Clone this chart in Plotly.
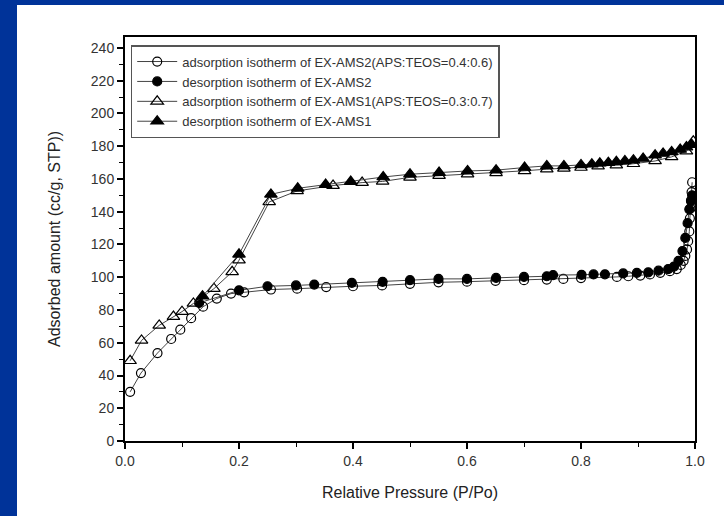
import plotly.graph_objects as go

# AMS2 adsorption (open circles)
ads2_p = [0.009, 0.028, 0.057, 0.081, 0.097, 0.116, 0.137, 0.161, 0.186, 0.209, 0.256, 0.302, 0.353, 0.400,
          0.451, 0.500, 0.550, 0.600, 0.650, 0.700, 0.740, 0.769, 0.800, 0.863, 0.883, 0.904, 0.921, 0.939,
          0.956, 0.968, 0.975, 0.980, 0.983, 0.986, 0.988, 0.990, 0.991, 0.992, 0.993, 0.994, 0.995]
ads2_v = [30, 41.5, 53.7, 62.3, 68, 75, 82, 87, 90, 90.8, 92.5, 93, 94, 94.5,
          95, 96, 96.9, 97.3, 97.8, 98.2, 98.6, 99, 99.5, 100.2, 100.6, 101, 101.7, 102.7,
          103.7, 105, 107.5, 110, 113, 117, 122, 128, 136, 142, 147, 152, 158]

# AMS2 desorption (filled circles)
des2_p = [0.995, 0.993, 0.990, 0.987, 0.983, 0.978, 0.971, 0.963, 0.953, 0.936, 0.918, 0.898, 0.874, 0.842,
          0.822, 0.801, 0.751, 0.740, 0.700, 0.651, 0.600, 0.550, 0.500, 0.452, 0.398, 0.332, 0.300, 0.250,
          0.200, 0.130]
des2_v = [150, 146.5, 141.5, 133, 124, 116, 110, 106.5, 105, 104, 103, 102.7, 102.3, 101.8,
          101.7, 101.5, 101.3, 100.6, 100.2, 99.6, 99, 99, 98.2, 97.2, 96.6, 95.5, 95, 94.5,
          92, 84.3]

# AMS1 adsorption (open triangles)
ads1_p = [0.009, 0.029, 0.060, 0.085, 0.100, 0.120, 0.156, 0.188, 0.200, 0.253, 0.302, 0.365, 0.416, 0.452,
          0.500, 0.551, 0.601, 0.651, 0.701, 0.740, 0.770, 0.800, 0.830, 0.862, 0.892, 0.930, 0.959, 0.985, 0.997]
ads1_v = [49, 61.4, 70.6, 76, 79, 84, 93, 103.3, 110.4, 146, 152.7, 156, 157.8, 158.5,
          161, 162, 163, 163.7, 165, 166, 166.5, 167, 167.8, 168.5, 169.3, 171, 173.5, 177, 183]

# AMS1 desorption (filled triangles)
des1_p = [0.994, 0.985, 0.974, 0.959, 0.944, 0.930, 0.909, 0.892, 0.877, 0.862, 0.848, 0.833, 0.819, 0.800,
          0.770, 0.740, 0.701, 0.651, 0.601, 0.551, 0.500, 0.453, 0.396, 0.352, 0.303, 0.256, 0.200, 0.136]
des1_v = [181, 179.5, 178, 176.5, 175.6, 174.5, 172.5, 171.5, 171, 170.5, 170, 169.6, 169, 168.6,
          168, 168, 167, 165.4, 164.9, 163.9, 162.9, 161.2, 158.4, 156.6, 154.3, 150.6, 114, 88.4]

names = [
    "adsorption isotherm of EX-AMS2(APS:TEOS=0.4:0.6)",
    "desorption isotherm of EX-AMS2",
    "adsorption isotherm of EX-AMS1(APS:TEOS=0.3:0.7)",
    "desorption isotherm of EX-AMS1",
]

x_ticks = [0.0, 0.2, 0.4, 0.6, 0.8, 1.0]
x_tick_labels = ["0.0", "0.2", "0.4", "0.6", "0.8", "1.0"]
y_ticks = list(range(0, 241, 20))

fig = go.Figure()
series = [
    (ads2_p, ads2_v, "circle-open", 9),
    (des2_p, des2_v, "circle", 9),
    (ads1_p, ads1_v, "triangle-up-open", 11),
    (des1_p, des1_v, "triangle-up", 11),
]
for (px, pv, sym, sz), nm in zip(series, names):
    fig.add_trace(go.Scatter(
        x=px, y=pv, mode="lines+markers", name=nm,
        line=dict(color="#444444", width=1),
        marker=dict(symbol=sym, size=sz, color="black",
                    line=dict(color="black", width=1.2)),
    ))

# white card over blue background
fig.add_shape(type="rect", xref="paper", yref="paper",
              x0=(17 - 125) / 570, x1=(730 - 125) / 570,
              y0=(441 - 520) / 404, y1=(441 - 5) / 404,
              fillcolor="white", line=dict(width=0), layer="below")

axis_font = dict(family="Liberation Sans, Arial, sans-serif", size=14, color="#333333")
fig.update_layout(
    width=724, height=516,
    margin=dict(l=125, r=29, t=37, b=75),
    paper_bgcolor="#003399",
    plot_bgcolor="white",
    font=dict(family="Liberation Sans, Arial, sans-serif", color="#222222"),
    showlegend=True,
    legend=dict(
        x=0.010, y=0.980, xanchor="left", yanchor="top",
        bgcolor="white", bordercolor="#555555", borderwidth=1.5,
        font=dict(family="Liberation Sans, Arial, sans-serif", size=13, color="#333333"),
        itemwidth=40, tracegroupgap=0,
    ),
    xaxis=dict(
        range=[0, 1.0], tickvals=x_ticks, ticktext=x_tick_labels,
        ticks="outside", ticklen=6, tickwidth=1.5, tickcolor="black",
        minor=dict(dtick=0.1, ticks="outside", ticklen=4, tickwidth=1.2, tickcolor="black"),
        showline=True, linecolor="black", linewidth=2, mirror=True,
        showgrid=False, zeroline=False, tickfont=axis_font,
        title=dict(text="Relative Pressure (P/Po)", standoff=19,
                   font=dict(family="Liberation Sans, Arial, sans-serif", size=16, color="#222222")),
    ),
    yaxis=dict(
        range=[0, 246.7], tickvals=y_ticks,
        ticks="outside", ticklen=6, tickwidth=1.5, tickcolor="black",
        minor=dict(dtick=10, ticks="outside", ticklen=4, tickwidth=1.2, tickcolor="black"),
        showline=True, linecolor="black", linewidth=2, mirror=True,
        showgrid=False, zeroline=False, tickfont=axis_font,
        title=dict(text="Adsorbed amount (cc/g, STP))", standoff=26,
                   font=dict(family="Liberation Sans, Arial, sans-serif", size=16, color="#222222")),
    ),
)

fig.write_html("out.html", config={"displayModeBar": False},
               post_script="document.body.style.margin='0';")
